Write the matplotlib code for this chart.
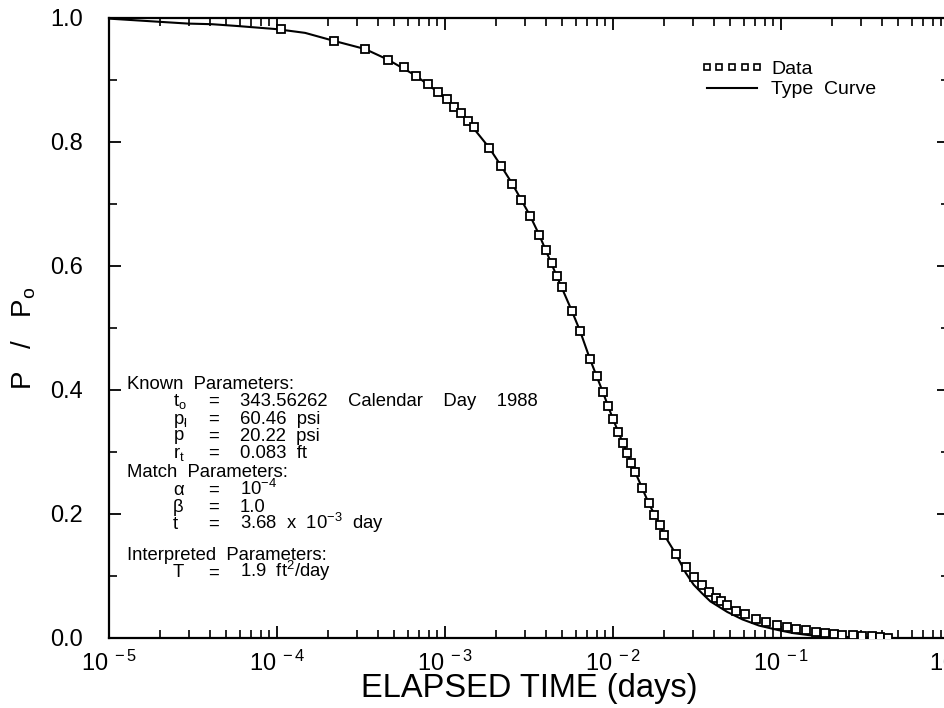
import numpy as np
import matplotlib
matplotlib.use("Agg")
import matplotlib.pyplot as plt
from matplotlib import ticker
from matplotlib.lines import Line2D

# ---- measured slug-test response (normalised pressure vs elapsed time) ----
data_time = [1.05e-4, 2.19e-4, 3.34e-4, 4.56e-4, 5.73e-4, 6.71e-4, 7.96e-4, 9.12e-4,
             1.033e-3, 1.133e-3, 1.244e-3, 1.364e-3, 1.49e-3, 1.83e-3, 2.15e-3, 2.51e-3,
             2.84e-3, 3.21e-3, 3.64e-3, 3.97e-3, 4.31e-3, 4.62e-3, 4.99e-3, 5.68e-3,
             6.37e-3, 7.29e-3, 8.0e-3, 8.69e-3, 9.33e-3, 1.0e-2, 1.072e-2, 1.143e-2,
             1.208e-2, 1.28e-2, 1.346e-2, 1.49e-2, 1.633e-2, 1.754e-2, 1.905e-2, 2.02e-2,
             2.36e-2, 2.71e-2, 3.03e-2, 3.39e-2, 3.72e-2, 4.08e-2, 4.42e-2, 4.75e-2,
             5.42e-2, 6.11e-2, 7.13e-2, 8.13e-2, 9.48e-2, 0.108, 0.122, 0.1416,
             0.1614, 0.1837, 0.206, 0.2317, 0.2674, 0.3055, 0.348, 0.388, 0.434]
data_ratio = [0.982, 0.963, 0.950, 0.933, 0.921, 0.907, 0.894, 0.880,
              0.869, 0.857, 0.846, 0.834, 0.824, 0.791, 0.762, 0.733,
              0.707, 0.681, 0.650, 0.626, 0.605, 0.584, 0.566, 0.528,
              0.495, 0.450, 0.422, 0.397, 0.374, 0.353, 0.333, 0.315,
              0.298, 0.283, 0.268, 0.242, 0.217, 0.198, 0.182, 0.166,
              0.136, 0.115, 0.099, 0.086, 0.074, 0.065, 0.059, 0.054,
              0.044, 0.038, 0.031, 0.026, 0.0215, 0.0174, 0.0148, 0.0124,
              0.0100, 0.0084, 0.0068, 0.0053, 0.0044, 0.0035, 0.0027, 0.0016, 0.0008]

# ---- matched type curve ----
curve_time = [1.0e-5, 1.96e-5, 2.95e-5, 4.1e-5, 5.86e-5, 1.0e-4, 1.47e-4, 2.19e-4,
              3.34e-4, 4.56e-4, 6.71e-4, 9.12e-4, 1.133e-3, 1.364e-3, 1.83e-3, 2.15e-3,
              2.51e-3, 2.84e-3, 3.21e-3, 3.64e-3, 3.97e-3, 4.62e-3, 5.68e-3, 6.37e-3,
              7.29e-3, 8.69e-3, 1.0e-2, 1.143e-2, 1.28e-2, 1.49e-2, 1.633e-2, 1.905e-2,
              2.02e-2, 2.36e-2, 2.71e-2, 3.02e-2, 3.39e-2, 3.80e-2, 4.79e-2, 5.89e-2,
              7.41e-2, 9.55e-2, 0.1175, 0.148, 0.20, 0.282, 0.40, 0.45]
curve_ratio = [0.999, 0.994, 0.991, 0.990, 0.987, 0.982, 0.976, 0.963,
               0.950, 0.933, 0.907, 0.880, 0.857, 0.834, 0.791, 0.762,
               0.733, 0.707, 0.681, 0.650, 0.626, 0.584, 0.528, 0.495,
               0.450, 0.397, 0.353, 0.315, 0.283, 0.242, 0.217, 0.182,
               0.166, 0.136, 0.105, 0.086, 0.072, 0.059, 0.042, 0.030,
               0.020, 0.013, 0.008, 0.0045, 0.0025, 0.0012, 0.0005, 0.0003]

legend_labels = ["Data", "Type  Curve"]
x_label = "ELAPSED TIME (days)"
y_label = r"P   /   P$_\mathrm{o}$"

# parameter block: headings and (symbol, value) rows
param_headings = ["Known  Parameters:", "Match  Parameters:", "Interpreted  Parameters:"]
known_symbols = [r"t$_\mathrm{o}$", r"p$_\mathrm{l}$", r"p$^{'}$", r"r$_\mathrm{t}$"]
known_values = ["343.56262    Calendar    Day    1988", "60.46  psi", "20.22  psi", "0.083  ft"]
match_symbols = ["\u03b1", "\u03b2", "t"]
match_values = [r"10$^{-4}$", "1.0", r"3.68  x  10$^{-3}$  day"]
interp_symbols = ["T"]
interp_values = [r"1.9  ft$^{2}$/day"]

plt.rcParams["font.family"] = ["Liberation Sans", "DejaVu Sans"]
plt.rcParams["mathtext.fontset"] = "custom"
plt.rcParams["mathtext.rm"] = "Liberation Sans"
plt.rcParams["mathtext.it"] = "Liberation Sans"
plt.rcParams["mathtext.bf"] = "Liberation Sans"

W, H = 944, 708
fig = plt.figure(figsize=(W / 100, H / 100), dpi=100)
fig.patch.set_facecolor("white")

# plotting frame (right edge runs just past the page)
left_px, right_px, top_px, bottom_px = 109, 949, 18, 638
ax = fig.add_axes([left_px / W, 1 - bottom_px / H,
                   (right_px - left_px) / W, (bottom_px - top_px) / H])

ax.plot(curve_time, curve_ratio, color="black", lw=1.5, zorder=2)
ax.plot(data_time, data_ratio, ls="none", marker="s", ms=5.2,
        mfc="white", mec="black", mew=1.3, zorder=3)

ax.set_xscale("log")
ax.set_xlim(1e-5, 1.0)
ax.set_ylim(0.0, 1.0)

ax.xaxis.set_major_locator(ticker.LogLocator(base=10, numticks=10))
ax.xaxis.set_minor_locator(ticker.LogLocator(base=10, subs=np.arange(2, 10), numticks=20))
ax.xaxis.set_minor_formatter(ticker.NullFormatter())
ax.xaxis.set_major_formatter(
    ticker.FuncFormatter(lambda v, p: r"10$^{\;%d}$" % int(round(np.log10(v)))))
ax.yaxis.set_major_locator(ticker.MultipleLocator(0.2))
ax.yaxis.set_minor_locator(ticker.MultipleLocator(0.1))
ax.yaxis.set_major_formatter(ticker.FormatStrFormatter("%.1f"))

ax.tick_params(which="both", direction="in", top=True, right=True, colors="black")
ax.tick_params(which="major", length=8.5, width=1.3)
ax.tick_params(which="minor", length=6.0, width=1.2)
ax.tick_params(axis="y", which="major", labelsize=17, pad=19)
ax.tick_params(axis="x", which="major", labelsize=17, pad=9)

for sp in ax.spines.values():
    sp.set_linewidth(1.6)

ax.set_xlabel(x_label, fontsize=23.5)
ax.xaxis.set_label_coords(0.5, -0.057)
ax.set_ylabel(y_label, fontsize=20)
ax.yaxis.set_label_coords(-0.085, 0.484)

handles = [Line2D([], [], ls="none", marker="s", ms=4.6, mfc="white", mec="black", mew=1.2),
           Line2D([], [], color="black", lw=1.5)]
ax.legend(handles, legend_labels, loc="upper left",
          bbox_to_anchor=(701 / W, 1 - 60 / H), bbox_transform=fig.transFigure,
          frameon=False, numpoints=5, handlelength=3.2, handletextpad=0.42,
          labelspacing=0.16, borderpad=0, borderaxespad=0, fontsize=14)

# parameter annotation block
head_x, sym_x, eq_x, val_x = 127, 173, 208, 240
fs = 13.3


def put(px, py, s):
    fig.text(px / W, 1 - py / H, s, fontsize=fs, ha="left", va="baseline")


def block(head, syms, vals, y0, step=17.3):
    put(head_x, y0 + 6, head)
    y = y0
    for s, v in zip(syms, vals):
        y += step
        put(sym_x, y + 6, s)
        put(eq_x, y + 6, "=")
        put(val_x, y + 6, v)
    return y


yk = block(param_headings[0], known_symbols, known_values, 383)
ym = block(param_headings[1], match_symbols, match_values, yk + 19)
block(param_headings[2], interp_symbols, interp_values, ym + 31)

fig.savefig("out.png", dpi=100, facecolor="white")
